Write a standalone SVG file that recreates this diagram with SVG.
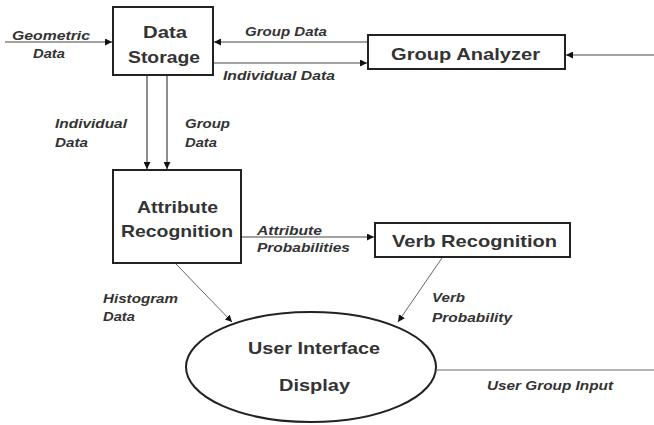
<svg xmlns="http://www.w3.org/2000/svg" width="654" height="425" viewBox="0 0 654 425">
<style>
.box{fill:#fff;stroke:#222;stroke-width:2}
.nt{font-family:"Liberation Sans",Arial,sans-serif;font-size:17px;font-weight:bold;fill:#333}
.lb{font-family:"Liberation Sans",Arial,sans-serif;font-size:12px;font-weight:bold;font-style:italic;fill:#333}
.cn{stroke:#444;stroke-width:1.2;fill:none}
.thin{stroke:#666;stroke-width:1;fill:none}
</style>
<defs>
<marker id="ah" viewBox="0 0 10 10" refX="10" refY="5" markerWidth="7" markerHeight="7" orient="auto" markerUnits="userSpaceOnUse">
<path d="M0,0 L10,5 L0,10 z" fill="#111"/>
</marker>
</defs>
<rect width="654" height="425" fill="#fff"/>
<g id="connectors">
<line class="cn" x1="5" y1="42" x2="112" y2="42" marker-end="url(#ah)"/>
<line class="cn" x1="368" y1="42" x2="214" y2="42" marker-end="url(#ah)"/>
<line class="cn" x1="214" y1="63" x2="367" y2="63" marker-end="url(#ah)"/>
<line class="cn" x1="654" y1="55" x2="566" y2="55" marker-end="url(#ah)"/>
<line class="cn" x1="147" y1="76" x2="147" y2="169" marker-end="url(#ah)"/>
<line class="cn" x1="167" y1="76" x2="167" y2="169" marker-end="url(#ah)"/>
<line class="cn" x1="242" y1="237" x2="374" y2="237" marker-end="url(#ah)"/>
<line class="thin" x1="176" y1="264" x2="232" y2="322" marker-end="url(#ah)"/>
<line class="thin" x1="442" y1="258" x2="398" y2="322" marker-end="url(#ah)"/>
<line class="thin" x1="437" y1="370" x2="654" y2="370"/>
</g>
<g id="labels" lengthAdjust="spacingAndGlyphs">
<text class="lb" x="12" y="40" textLength="78" lengthAdjust="spacingAndGlyphs">Geometric</text>
<text class="lb" x="33" y="58" textLength="32" lengthAdjust="spacingAndGlyphs">Data</text>
<text class="lb" x="245" y="36" textLength="82" lengthAdjust="spacingAndGlyphs">Group Data</text>
<text class="lb" x="223" y="80" textLength="112" lengthAdjust="spacingAndGlyphs">Individual Data</text>
<text class="lb" x="55" y="128" textLength="72" lengthAdjust="spacingAndGlyphs">Individual</text>
<text class="lb" x="55" y="147" textLength="33" lengthAdjust="spacingAndGlyphs">Data</text>
<text class="lb" x="185" y="128" textLength="45" lengthAdjust="spacingAndGlyphs">Group</text>
<text class="lb" x="185" y="147" textLength="32" lengthAdjust="spacingAndGlyphs">Data</text>
<text class="lb" x="257" y="235" textLength="65" lengthAdjust="spacingAndGlyphs">Attribute</text>
<text class="lb" x="257" y="252" textLength="93" lengthAdjust="spacingAndGlyphs">Probabilities</text>
<text class="lb" x="103" y="303" textLength="75" lengthAdjust="spacingAndGlyphs">Histogram</text>
<text class="lb" x="103" y="321" textLength="32" lengthAdjust="spacingAndGlyphs">Data</text>
<text class="lb" x="432" y="302" textLength="33" lengthAdjust="spacingAndGlyphs">Verb</text>
<text class="lb" x="432" y="322" textLength="80" lengthAdjust="spacingAndGlyphs">Probability</text>
<text class="lb" x="487" y="390" textLength="126" lengthAdjust="spacingAndGlyphs">User Group Input</text>
</g>
<g id="data-storage">
<rect class="box" x="113" y="7" width="100" height="68"/>
<text class="nt" x="143" y="38" textLength="44" lengthAdjust="spacingAndGlyphs">Data</text>
<text class="nt" x="128" y="63" textLength="72" lengthAdjust="spacingAndGlyphs">Storage</text>
</g>
<g id="group-analyzer">
<rect class="box" x="368" y="35" width="197" height="34"/>
<text class="nt" x="391" y="60" textLength="149" lengthAdjust="spacingAndGlyphs">Group Analyzer</text>
</g>
<g id="attribute-recognition">
<rect class="box" x="113" y="170" width="128" height="93"/>
<text class="nt" x="137" y="213" textLength="81" lengthAdjust="spacingAndGlyphs">Attribute</text>
<text class="nt" x="121" y="237" textLength="112" lengthAdjust="spacingAndGlyphs">Recognition</text>
</g>
<g id="verb-recognition">
<rect class="box" x="375" y="223" width="195" height="34"/>
<text class="nt" x="392" y="247" textLength="165" lengthAdjust="spacingAndGlyphs">Verb Recognition</text>
</g>
<g id="user-interface">
<ellipse class="box" cx="311" cy="367" rx="125" ry="55"/>
<text class="nt" x="248" y="354" textLength="132" lengthAdjust="spacingAndGlyphs">User Interface</text>
<text class="nt" x="279" y="391" textLength="71" lengthAdjust="spacingAndGlyphs">Display</text>
</g>
</svg>
